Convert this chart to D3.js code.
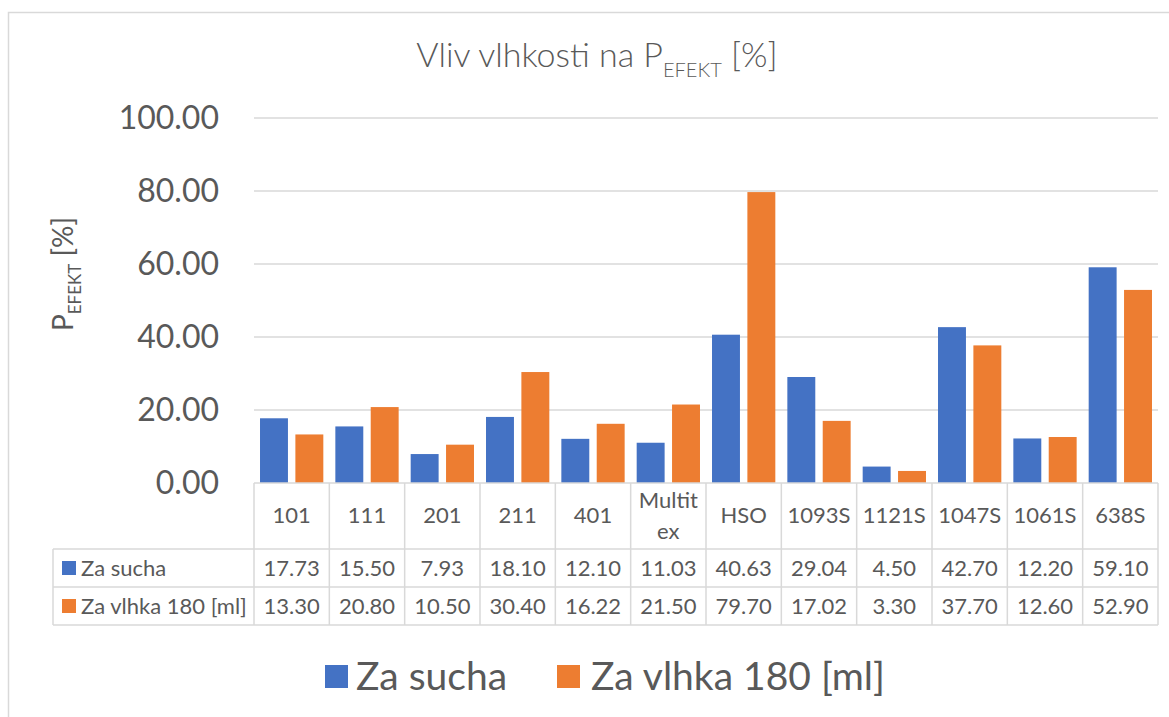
<!DOCTYPE html>
<html>
<head>
<meta charset="utf-8">
<script src="https://cdn.jsdelivr.net/npm/d3@7"></script>
<style>
  body { margin: 0; background: #fff; }
  svg text { font-family: Lato, "Open Sans", sans-serif; fill: #595959; }
</style>
</head>
<body>
<div id="chart"></div>
<script>
// chart data
var categories = ["101", "111", "201", "211", "401", "Multitex", "HSO", "1093S", "1121S", "1047S", "1061S", "638S"];
var seriesNames = ["Za sucha", "Za vlhka 180 [ml]"];
var zaSucha = [17.73, 15.50, 7.93, 18.10, 12.10, 11.03, 40.63, 29.04, 4.50, 42.70, 12.20, 59.10];
var zaVlhka = [13.30, 20.80, 10.50, 30.40, 16.22, 21.50, 79.70, 17.02, 3.30, 37.70, 12.60, 52.90];
var yTicks = [0, 20, 40, 60, 80, 100];
var colors = ["#4472C4", "#ED7D31"];

var width = 1169, height = 717;
var plotLeft = 254, plotRight = 1158;
var plotTop = 118, plotBottom = 483;
var rowH = [66, 38, 38];   // header row, then one row per series
var legendColLeft = 53;
var gridColor = "#d9d9d9";

var svg = d3.select("#chart").append("svg")
    .attr("width", width)
    .attr("height", height);

// chart border (runs off the right / bottom of the picture)
svg.append("rect")
    .attr("x", 8.5).attr("y", 12.5)
    .attr("width", 1300).attr("height", 800)
    .attr("fill", "none")
    .attr("stroke", gridColor)
    .attr("stroke-width", 1.5);

var x = d3.scaleBand().domain(categories).range([plotLeft, plotRight]);
var x1 = d3.scaleBand().domain(seriesNames).range([0, x.bandwidth()])
    .paddingInner(0.21).paddingOuter(0.17);
var y = d3.scaleLinear().domain([0, 100]).range([plotBottom, plotTop]);

// title
var title = svg.append("text")
    .attr("x", 597).attr("y", 67)
    .attr("text-anchor", "middle")
    .style("font-size", "34px")
    .style("font-weight", 300);
title.append("tspan").text("Vliv vlhkosti na P");
title.append("tspan").attr("dy", 10).style("font-size", "20px").text("EFEKT");
title.append("tspan").attr("dy", -10).text(" [%]");

// gridlines
svg.append("g")
    .selectAll("line")
    .data(yTicks.filter(function (d) { return d > 0; }))
    .enter()
    .append("line")
    .attr("x1", plotLeft).attr("x2", plotRight)
    .attr("y1", function (d) { return y(d); })
    .attr("y2", function (d) { return y(d); })
    .attr("stroke", gridColor)
    .attr("stroke-width", 1.5);

// y axis labels
var yAxis = svg.append("g")
    .attr("transform", "translate(" + (plotLeft - 35) + ",0)")
    .call(d3.axisLeft(y).tickValues(yTicks).tickFormat(d3.format(".2f")).tickSize(0).tickPadding(0));
yAxis.select(".domain").remove();
yAxis.selectAll("text")
    .style("font-size", "32px")
    .style("font-family", "Lato, sans-serif")
    .attr("fill", "#595959");

// y axis title
var yTitle = svg.append("text")
    .attr("transform", "translate(73,274) rotate(-90)")
    .attr("text-anchor", "middle")
    .style("font-size", "28px");
yTitle.append("tspan").text("P");
yTitle.append("tspan").attr("dy", 8).style("font-size", "17px").text("EFEKT");
yTitle.append("tspan").attr("dy", -8).text(" [%]");

// bars
var series = [zaSucha, zaVlhka];
series.forEach(function (values, si) {
    svg.append("g")
        .selectAll("rect")
        .data(values)
        .enter()
        .append("rect")
        .attr("x", function (d, i) { return x(categories[i]) + x1(seriesNames[si]); })
        .attr("y", function (d) { return y(d); })
        .attr("width", x1.bandwidth())
        .attr("height", function (d) { return y(0) - y(d); })
        .attr("fill", colors[si]);
});

// data table
var table = svg.append("g");
var rowY = [plotBottom, plotBottom + rowH[0], plotBottom + rowH[0] + rowH[1], plotBottom + rowH[0] + rowH[1] + rowH[2]];
var fmt = d3.format(".2f");

// horizontal lines
table.append("line")
    .attr("x1", plotLeft).attr("x2", plotRight)
    .attr("y1", rowY[0]).attr("y2", rowY[0]);
[1, 2, 3].forEach(function (r) {
    table.append("line")
        .attr("x1", legendColLeft).attr("x2", plotRight)
        .attr("y1", rowY[r]).attr("y2", rowY[r]);
});
// vertical lines
var colEdges = categories.map(function (c) { return x(c); }).concat([plotRight]);
colEdges.forEach(function (cx) {
    table.append("line")
        .attr("x1", cx).attr("x2", cx)
        .attr("y1", rowY[0]).attr("y2", rowY[3]);
});
table.append("line")
    .attr("x1", legendColLeft).attr("x2", legendColLeft)
    .attr("y1", rowY[1]).attr("y2", rowY[3]);
table.selectAll("line")
    .attr("stroke", gridColor)
    .attr("stroke-width", 1.5);

// category labels (wrapped when too wide for the column)
var maxLabelW = 65;
categories.forEach(function (c) {
    var cx = x(c) + x.bandwidth() / 2;
    var t = table.append("text")
        .attr("x", cx)
        .attr("text-anchor", "middle")
        .style("font-size", "22px")
        .text(c);
    var lines = [c];
    if (t.node().getComputedTextLength() > maxLabelW) {
        var cut = c.length;
        while (cut > 1) {
            t.text(c.slice(0, cut));
            if (t.node().getComputedTextLength() <= maxLabelW) break;
            cut--;
        }
        lines = [c.slice(0, cut), c.slice(cut)];
    }
    t.text(null);
    var lineH = 31;
    var mid = rowY[0] + rowH[0] / 2 + 7;
    lines.forEach(function (l, li) {
        t.append("tspan")
            .attr("x", cx)
            .attr("y", mid + (li - (lines.length - 1) / 2) * lineH)
            .text(l);
    });
});

// series rows
series.forEach(function (values, si) {
    var cy = rowY[si + 1] + rowH[si + 1] / 2;
    table.append("rect")
        .attr("x", 62).attr("y", cy - 7)
        .attr("width", 14).attr("height", 14)
        .attr("fill", colors[si]);
    table.append("text")
        .attr("x", 81).attr("y", cy + 8)
        .style("font-size", "22px")
        .text(seriesNames[si]);
    values.forEach(function (v, i) {
        table.append("text")
            .attr("x", x(categories[i]) + x.bandwidth() / 2)
            .attr("y", cy + 8)
            .attr("text-anchor", "middle")
            .style("font-size", "22px")
            .text(fmt(v));
    });
});

// legend
var legendItems = [{ name: seriesNames[0], x: 325, tx: 356 }, { name: seriesNames[1], x: 557, tx: 591 }];
var legend = svg.append("g");
legendItems.forEach(function (d, i) {
    legend.append("rect")
        .attr("x", d.x).attr("y", 665)
        .attr("width", 23).attr("height", 23)
        .attr("fill", colors[i]);
    legend.append("text")
        .attr("x", d.tx).attr("y", 690)
        .style("font-size", "39px")
        .text(d.name);
});
</script>
</body>
</html>
